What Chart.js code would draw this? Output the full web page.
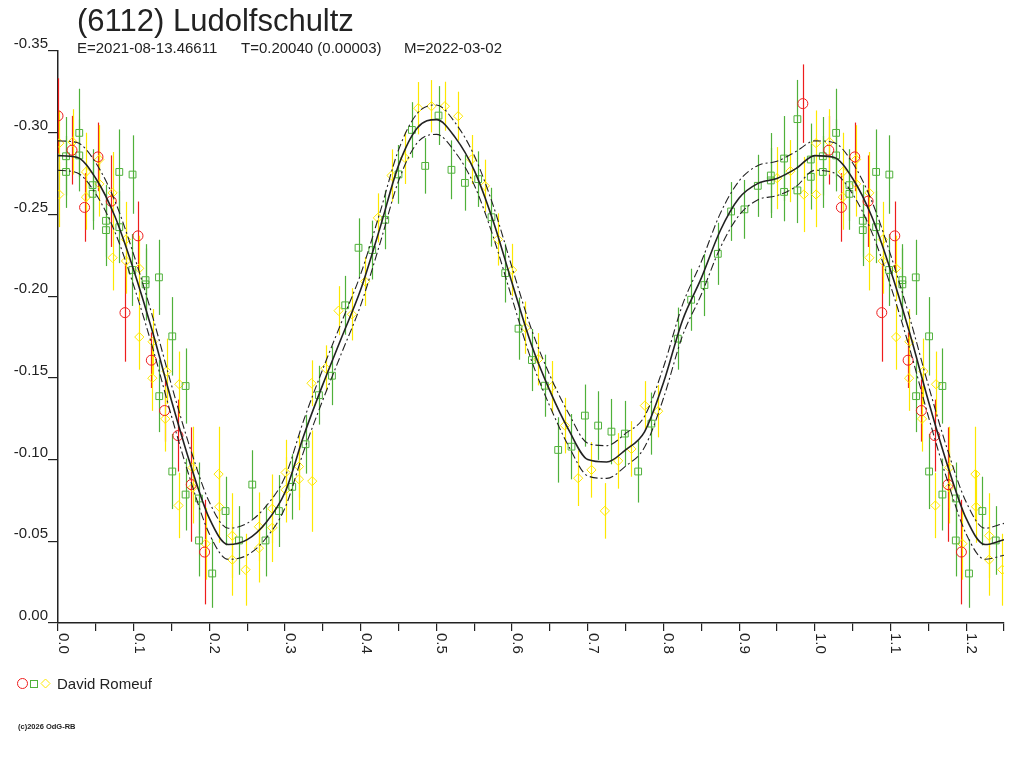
<!DOCTYPE html>
<html>
<head>
<meta charset="utf-8">
<title>(6112) Ludolfschultz</title>
<script src="https://cdn.jsdelivr.net/npm/chart.js@4.4.1/dist/chart.umd.min.js"></script>
<style>
  html, body { margin: 0; padding: 0; background: #fff; }
  canvas { display: block; }
</style>
</head>
<body>
<canvas id="lightcurve" width="1024" height="768"></canvas>
<script>
// phase / relative magnitude / error, one triple per observer symbol
var redPhase = [0.000, 0.0185, 0.0528, 0.0351, 0.0704, 0.1057, 0.0885, 0.1233, 0.1408, 0.1585, 0.1761, 0.1937, 0.9842];
var redMag   = [-0.3103, -0.2893, -0.2852, -0.2543, -0.2581, -0.2369, -0.1899, -0.1608, -0.1300, -0.1147, -0.0847, -0.0434, -0.3178];
var redErr   = [0.023, 0.021, 0.021, 0.021, 0.028, 0.021, 0.030, 0.017, 0.019, 0.022, 0.035, 0.032, 0.024];

var greenPhase = [0.0281, 0.0106, 0.0106, 0.0281, 0.0457, 0.0457, 0.0810, 0.0985, 0.0634, 0.0634,
                  0.0810, 0.0982, 0.1157, 0.1157, 0.1334, 0.1510, 0.1338, 0.1686, 0.1510, 0.1686,
                  0.1863, 0.1863, 0.2038, 0.2214, 0.2391, 0.2567, 0.2742, 0.2919, 0.3095, 0.3271,
                  0.3448, 0.3620, 0.3795, 0.3971, 0.4152, 0.4324, 0.4499, 0.4676, 0.4852, 0.5028,
                  0.5199, 0.5377, 0.5552, 0.5728, 0.5909, 0.6085, 0.6262, 0.6433, 0.6609, 0.6785,
                  0.6962, 0.7137, 0.7313, 0.7490, 0.7666, 0.7841, 0.8190, 0.8366, 0.8542, 0.8719,
                  0.8894, 0.9070, 0.9247, 0.9419, 0.9419, 0.9594, 0.9594, 0.9770, 0.9770, 0.9947,
                  0.9947];
var greenMag = [-0.2999, -0.2856, -0.2760, -0.2861, -0.2679, -0.2626, -0.2760, -0.2744, -0.2461, -0.2404,
                -0.2422, -0.2160, -0.2098, -0.2072, -0.2115, -0.1754, -0.1388, -0.1450, -0.0927, -0.0786,
                -0.0762, -0.0505, -0.0303, -0.0685, -0.0505, -0.0847, -0.0505, -0.0685, -0.0833, -0.1094,
                -0.1394, -0.1513, -0.1944, -0.2296, -0.2282, -0.2467, -0.2745, -0.3017, -0.2797, -0.3105,
                -0.2773, -0.2693, -0.2716, -0.2483, -0.2141, -0.1801, -0.1609, -0.1452, -0.1059, -0.1079,
                -0.1269, -0.1208, -0.1171, -0.1159, -0.0927, -0.1220, -0.1740, -0.1978, -0.2068, -0.2259,
                -0.2518, -0.2531, -0.2675, -0.2738, -0.2708, -0.2842, -0.2638, -0.3083, -0.2647, -0.2836,
                -0.2730];
var greenErr = [0.027, 0.024, 0.022, 0.022, 0.022, 0.022, 0.026, 0.024, 0.022, 0.022,
                0.022, 0.022, 0.022, 0.022, 0.023, 0.024, 0.022, 0.023, 0.023, 0.022,
                0.022, 0.022, 0.021, 0.021, 0.021, 0.021, 0.022, 0.022, 0.020, 0.018,
                0.018, 0.018, 0.018, 0.018, 0.018, 0.018, 0.018, 0.017, 0.017, 0.018,
                0.018, 0.017, 0.017, 0.018, 0.018, 0.019, 0.019, 0.019, 0.020, 0.020,
                0.019, 0.021, 0.020, 0.020, 0.019, 0.019, 0.019, 0.019, 0.019, 0.019,
                0.018, 0.018, 0.019, 0.026, 0.020, 0.026, 0.018, 0.024, 0.020, 0.022,
                0.020];

var yellowPhase = [0.0017, 0.0017, 0.0193, 0.0370, 0.0370, 0.0546, 0.0546, 0.0721, 0.0721, 0.0898,
                   0.0898, 0.1074, 0.1074, 0.1250, 0.1246, 0.1435, 0.1602, 0.1417, 0.1593, 0.1778,
                   0.1778, 0.1950, 0.2122, 0.2131, 0.2303, 0.2303, 0.2478, 0.2655, 0.2655, 0.2831,
                   0.2831, 0.3007, 0.3007, 0.3184, 0.3184, 0.3359, 0.3350, 0.3535, 0.3707, 0.3884,
                   0.4059, 0.4227, 0.4407, 0.4584, 0.4760, 0.4935, 0.5112, 0.5288, 0.5464, 0.5641,
                   0.5813, 0.6001, 0.6177, 0.6345, 0.6521, 0.6698, 0.6873, 0.7049, 0.7226, 0.7402,
                   0.7577, 0.7754, 0.7930, 0.9502, 0.9678, 0.9855];
var yellowMag = [-0.2936, -0.2622, -0.2944, -0.2760, -0.2606, -0.2836, -0.2687, -0.2632, -0.2235, -0.2347,
                 -0.2215, -0.2170, -0.1750, -0.1721, -0.1498, -0.1540, -0.1461, -0.1249, -0.0719, -0.0951,
                 -0.0829, -0.0485, -0.0911, -0.0711, -0.0534, -0.0387, -0.0326, -0.0589, -0.0458, -0.0699,
                 -0.0583, -0.0921, -0.0815, -0.0957, -0.0880, -0.0868, -0.1467, -0.1559, -0.1911, -0.1889,
                 -0.2090, -0.2479, -0.2738, -0.2846, -0.3150, -0.3162, -0.3162, -0.3101, -0.2836, -0.2675,
                 -0.2347, -0.2160, -0.1807, -0.1614, -0.1443, -0.1208, -0.0886, -0.0937, -0.0686, -0.0992,
                 -0.1065, -0.1330, -0.1296, -0.2722, -0.2765, -0.2622];
var yellowErr = [0.020, 0.020, 0.020, 0.024, 0.020, 0.021, 0.020, 0.025, 0.020, 0.023,
                 0.020, 0.020, 0.020, 0.020, 0.020, 0.020, 0.020, 0.020, 0.020, 0.025,
                 0.022, 0.022, 0.029, 0.022, 0.026, 0.022, 0.022, 0.021, 0.021, 0.021,
                 0.021, 0.020, 0.020, 0.019, 0.019, 0.031, 0.014, 0.014, 0.015, 0.016,
                 0.015, 0.015, 0.016, 0.016, 0.016, 0.016, 0.015, 0.015, 0.015, 0.016,
                 0.016, 0.016, 0.016, 0.016, 0.016, 0.017, 0.017, 0.017, 0.017, 0.017,
                 0.017, 0.015, 0.016, 0.019, 0.019, 0.023];

// fitted lightcurve and its envelope, read every 0.025 in phase
var fitPhase = [0.000, 0.025, 0.050, 0.075, 0.100, 0.125, 0.150, 0.175, 0.200, 0.225,
                0.250, 0.275, 0.300, 0.325, 0.350, 0.375, 0.400, 0.425, 0.450, 0.475,
                0.500, 0.525, 0.550, 0.575, 0.600, 0.625, 0.650, 0.675, 0.700, 0.725,
                0.750, 0.775, 0.800, 0.825, 0.850, 0.875, 0.900, 0.925, 0.950, 0.975, 1.000];
var fitMid = [-0.2860, -0.2850, -0.2720, -0.2490, -0.2160, -0.1780, -0.1360, -0.0970, -0.0640, -0.0480,
              -0.0510, -0.0615, -0.0800, -0.1150, -0.1460, -0.1750, -0.2040, -0.2410, -0.2800, -0.3030,
              -0.3080, -0.2970, -0.2770, -0.2460, -0.2080, -0.1710, -0.1420, -0.1180, -0.1000, -0.0985,
              -0.1060, -0.1170, -0.1470, -0.1850, -0.2110, -0.2400, -0.2600, -0.2690, -0.2720, -0.2780, -0.2860];
var fitUpper = [-0.2950, -0.2940, -0.2815, -0.2585, -0.2255, -0.1875, -0.1455, -0.1065, -0.0740, -0.0580,
                -0.0610, -0.0715, -0.0895, -0.1245, -0.1555, -0.1845, -0.2135, -0.2505, -0.2895, -0.3120,
                -0.3170, -0.3060, -0.2860, -0.2555, -0.2175, -0.1805, -0.1515, -0.1280, -0.1100, -0.1085,
                -0.1160, -0.1265, -0.1565, -0.1945, -0.2210, -0.2505, -0.2705, -0.2800, -0.2825, -0.2885, -0.2950];
var fitLower = [-0.2770, -0.2755, -0.2625, -0.2395, -0.2065, -0.1685, -0.1265, -0.0875, -0.0545, -0.0390,
                -0.0415, -0.0520, -0.0705, -0.1055, -0.1365, -0.1655, -0.1945, -0.2315, -0.2705, -0.2940,
                -0.2990, -0.2880, -0.2680, -0.2365, -0.1985, -0.1615, -0.1325, -0.1080, -0.0900, -0.0885,
                -0.0960, -0.1075, -0.1375, -0.1755, -0.2010, -0.2295, -0.2495, -0.2590, -0.2615, -0.2670, -0.2770];

var xTickLabels = ['0.0', '0.1', '0.2', '0.3', '0.4', '0.5', '0.6', '0.7', '0.8', '0.9', '1.0', '1.1', '1.2'];
var xTickValues = [0, 0.1, 0.2, 0.3, 0.4, 0.5, 0.6, 0.7, 0.8, 0.9, 1.0, 1.1, 1.2];

var PHASE_MAX = 1.25;

// the plot repeats the first quarter of the cycle after phase 1
function phasePoints(ph, mag, err) {
    var pts = [];
    for (var i = 0; i < ph.length; i++) {
        pts.push({ x: ph[i], y: mag[i], e: err ? err[i] : 0 });
    }
    for (var j = 0; j < ph.length; j++) {
        if (ph[j] > 0 && ph[j] + 1 <= PHASE_MAX) {
            pts.push({ x: ph[j] + 1, y: mag[j], e: err ? err[j] : 0 });
        }
    }
    if (!err) pts.sort(function(a, b) { return a.x - b.x; });
    return pts;
}

var RED = '#ee1c1c', GREEN = '#4fb13a', YELLOW = '#fde800', INK = '#222222';
var FONT = '"Liberation Sans", Arial, sans-serif';

var errorBars = {
    id: 'errorBars',
    beforeDatasetsDraw: function(chart) {
        var ctx = chart.ctx, xs = chart.scales.x, ys = chart.scales.y;
        ctx.save();
        ctx.lineWidth = 1.2;
        chart.data.datasets.forEach(function(ds) {
            if (!ds.errorBars) return;
            ctx.strokeStyle = ds.borderColor;
            ds.data.forEach(function(p) {
                var px = Math.round(xs.getPixelForValue(p.x)) + 0.5;
                ctx.beginPath();
                ctx.moveTo(px, ys.getPixelForValue(p.y - p.e));
                ctx.lineTo(px, ys.getPixelForValue(p.y + p.e));
                ctx.stroke();
            });
        });
        ctx.restore();
    }
};

var decorations = {
    id: 'decorations',
    afterDraw: function(chart) {
        var ctx = chart.ctx, xs = chart.scales.x;
        ctx.save();
        ctx.fillStyle = INK;
        ctx.textAlign = 'left';
        ctx.textBaseline = 'alphabetic';

        ctx.font = '31px ' + FONT;
        ctx.fillText('(6112) Ludolfschultz', 77, 31);

        ctx.font = '15px ' + FONT;
        ctx.fillText('E=2021-08-13.46611', 77, 53);
        ctx.fillText('T=0.20040 (0.00003)', 241, 53);
        ctx.fillText('M=2022-03-02', 404, 53);

        // x labels read downwards
        xTickValues.forEach(function(v, i) {
            var px = xs.getPixelForValue(v);
            ctx.save();
            ctx.translate(px + 1, chart.chartArea.bottom + 10);
            ctx.rotate(Math.PI / 2);
            ctx.fillText(xTickLabels[i], 0, 0);
            ctx.restore();
        });

        // legend
        ctx.lineWidth = 1;
        ctx.strokeStyle = RED;
        ctx.beginPath();
        ctx.arc(22.5, 683.5, 5, 0, Math.PI * 2);
        ctx.stroke();
        ctx.strokeStyle = GREEN;
        ctx.strokeRect(30.5, 680.5, 7, 7);
        ctx.strokeStyle = YELLOW;
        ctx.beginPath();
        ctx.moveTo(41, 683.5);
        ctx.lineTo(45.5, 679);
        ctx.lineTo(50, 683.5);
        ctx.lineTo(45.5, 688);
        ctx.closePath();
        ctx.stroke();
        ctx.fillStyle = INK;
        ctx.font = '15px ' + FONT;
        ctx.fillText('David Romeuf', 57, 689);

        ctx.font = 'bold 7.5px ' + FONT;
        ctx.fillText('(c)2026 OdG-RB', 18, 729);
        ctx.restore();
    }
};

var curveStyle = {
    type: 'line', showLine: true, pointRadius: 0, fill: false,
    cubicInterpolationMode: 'monotone', borderColor: INK
};

new Chart(document.getElementById('lightcurve'), {
    type: 'scatter',
    data: {
        datasets: [
            Object.assign({ label: 'fit', data: phasePoints(fitPhase, fitMid), borderWidth: 1.6 }, curveStyle),
            Object.assign({ label: 'fit+', data: phasePoints(fitPhase, fitUpper), borderWidth: 1.1, borderDash: [8, 3, 2, 3] }, curveStyle),
            Object.assign({ label: 'fit-', data: phasePoints(fitPhase, fitLower), borderWidth: 1.1, borderDash: [8, 3, 2, 3] }, curveStyle),
            {
                label: 'David Romeuf (1)', data: phasePoints(redPhase, redMag, redErr), errorBars: true,
                pointStyle: 'circle', pointRadius: 5, borderColor: RED, pointBorderColor: RED,
                pointBackgroundColor: 'rgba(0,0,0,0)', pointBorderWidth: 1
            },
            {
                label: 'David Romeuf (2)', data: phasePoints(greenPhase, greenMag, greenErr), errorBars: true,
                pointStyle: 'rect', pointRadius: 4.8, borderColor: GREEN, pointBorderColor: GREEN,
                pointBackgroundColor: 'rgba(0,0,0,0)', pointBorderWidth: 1
            },
            {
                label: 'David Romeuf (3)', data: phasePoints(yellowPhase, yellowMag, yellowErr), errorBars: true,
                pointStyle: 'rectRot', pointRadius: 4.6, borderColor: YELLOW, pointBorderColor: YELLOW,
                pointBackgroundColor: 'rgba(0,0,0,0)', pointBorderWidth: 1
            }
        ]
    },
    options: {
        responsive: false,
        animation: false,
        devicePixelRatio: 1,
        events: [],
        layout: { padding: { top: 51, right: 20, bottom: 0, left: 0 } },
        plugins: {
            legend: { display: false },
            title: { display: false },
            tooltip: { enabled: false }
        },
        scales: {
            x: {
                type: 'linear',
                min: 0,
                max: PHASE_MAX,
                afterFit: function(scale) { scale.height = 145; },
                ticks: { display: false, stepSize: 0.05 },
                grid: { drawOnChartArea: false, drawTicks: true, tickLength: 8, color: INK, lineWidth: 1.2 },
                border: { color: INK, width: 1.5 }
            },
            y: {
                type: 'linear',
                reverse: true,
                min: -0.35,
                max: 0,
                afterFit: function(scale) { scale.width = 58; },
                ticks: {
                    stepSize: 0.05,
                    padding: 0,
                    labelOffset: -7,
                    color: INK,
                    font: { family: FONT, size: 15 },
                    callback: function(v) { return (Math.abs(v) < 1e-9 ? 0 : v).toFixed(2); }
                },
                grid: { drawOnChartArea: false, drawTicks: true, tickLength: 10, color: INK, lineWidth: 1.2 },
                border: { color: INK, width: 1.5 }
            }
        }
    },
    plugins: [errorBars, decorations]
});
</script>
</body>
</html>
